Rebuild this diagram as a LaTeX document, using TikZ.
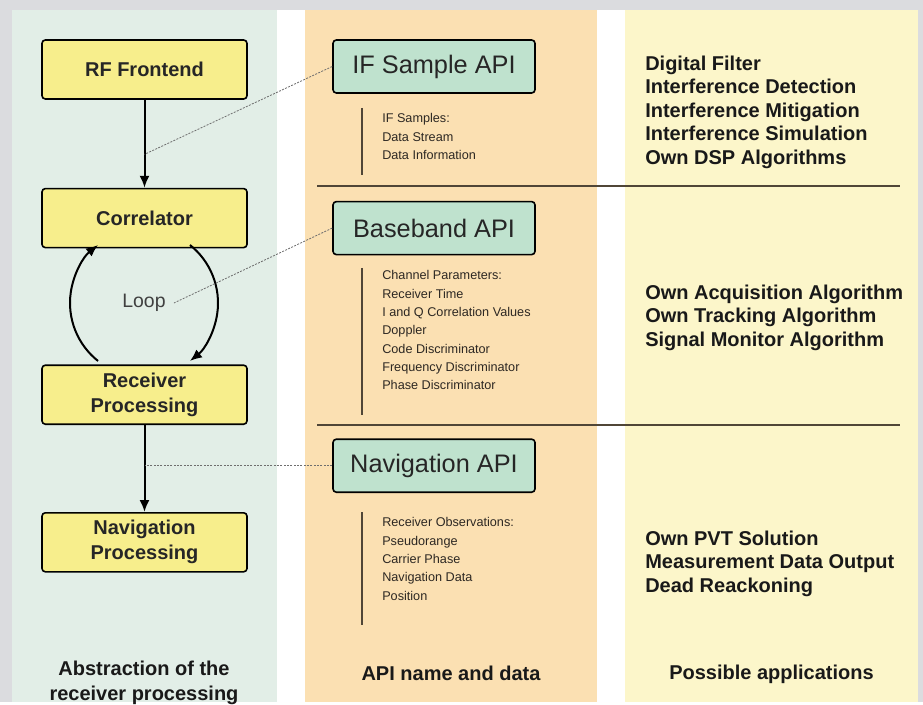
\documentclass[tikz,border=0pt]{standalone}
\usepackage{fontspec}
\setmainfont{Liberation Sans}
\usepackage{tikz}
\usetikzlibrary{arrows.meta,positioning,calc}

\definecolor{pagegrey}{RGB}{219,220,223}
\definecolor{colmint}{RGB}{226,238,231}
\definecolor{colpeach}{RGB}{251,224,178}
\definecolor{colcream}{RGB}{252,246,202}
\definecolor{boxyellow}{RGB}{247,238,140}
\definecolor{apigreen}{RGB}{191,226,206}
\definecolor{sepbrown}{RGB}{80,70,55}
\definecolor{tapgrey}{RGB}{110,110,110}
\definecolor{listgrey}{RGB}{45,40,35}

\begin{document}
\begin{tikzpicture}[x=0.75pt, y=-0.75pt, >={Latex[length=9pt,width=7.5pt]}]
\tikzset{
procblock/.style = {draw, line width=1.2pt, rounded corners=2.5pt, fill=boxyellow, minimum width=153.75pt, minimum height=44.25pt, align=center, text=black!85, font=\bfseries\fontsize{15}{18.75}\selectfont},
apiblock/.style  = {draw, line width=1.2pt, rounded corners=2.5pt, fill=apigreen, minimum width=151.5pt, minimum height=39.75pt, text=black!85, font=\fontsize{19}{22}\selectfont},
datalist/.style  = {anchor=north west, inner sep=0pt, align=left, text=listgrey, font=\fontsize{9.5}{13.75}\selectfont},
appslist/.style  = {anchor=north west, inner sep=0pt, align=left, text=black!90, font=\bfseries\fontsize{15}{17.6}\selectfont},
coltitle/.style  = {anchor=north, inner sep=0pt, align=center, text=black!90, font=\bfseries\fontsize{15}{18.75}\selectfont},
flow/.style      = {->, line width=1.5pt},
tap/.style       = {draw=tapgrey, line width=0.6pt, dash pattern=on 1.5pt off 1pt},
sepline/.style   = {draw=sepbrown, line width=0.8pt},
bar/.style       = {draw=sepbrown, line width=1.2pt},
coord/.style     = {coordinate},
}

    % Background and columns
    \fill[pagegrey] (0,0) rectangle (923,702);
    \fill[white]    (12,10) rectangle (918,702);
    \fill[colmint]  (12,10) rectangle (277,702);
    \fill[colpeach] (305,10) rectangle (597,702);
    \fill[colcream] (625,10) rectangle (918,702);

    % Separators
    \draw[sepline] (317,186) -- (900,186);
    \draw[sepline] (317,425) -- (900,425);

    % Processing nodes
    \node [procblock]                     (rf)    at (144.5,69.5) {RF Frontend};
    \node [procblock, below=66pt of rf]   (corr)  {Correlator};
    \node [procblock, below=87pt of corr] (recv)  {Receiver\\Processing};
    \node [procblock, below=65.25pt of recv] (navp) {Navigation\\Processing};
    \node [inner sep=6pt, text=black!75, font=\fontsize{14.6}{17}\selectfont] (loop) at (144,303) {Loop};

    % Processing edges
    \draw [flow] (rf) -- (corr);
    \draw [flow] (recv) -- (navp);
    \draw [flow] (loop.center) ++(128.4:74) arc[start angle=128.4, end angle=231.6, radius=74];
    \draw [flow] (loop.center) ++(-51.6:74) arc[start angle=-51.6, end angle=51.6, radius=74];

    % API nodes
    \node [apiblock]                          (ifapi)  at (434,66.5) {IF Sample API};
    \node [apiblock, below=80.25pt of ifapi]  (bbapi)  {Baseband API};
    \node [apiblock, below=137.25pt of bbapi] (navapi) {Navigation API};

    % API data
    \node [datalist] (iflist)  at (382,113.3) {IF Samples:\\Data Stream\\Data Information};
    \node [datalist] (bblist)  at (382,270.3) {Channel Parameters:\\Receiver Time\\I and Q Correlation Values\\Doppler\\Code Discriminator\\Frequency Discriminator\\Phase Discriminator};
    \node [datalist] (navlist) at (382,517.3) {Receiver Observations:\\Pseudorange\\Carrier Phase\\Navigation Data\\Position};
    \draw[bar] (362,108) -- (362,175);
    \draw[bar] (362,268) -- (362,415);
    \draw[bar] (362,512) -- (362,625);

    % API edges
    \coordinate (tapif) at ($(rf.south)!0.62!(corr.north)$);
    \coordinate (tapnav) at (recv.south |- navapi.west);
    \draw [tap] (ifapi.west) -- (tapif);
    \draw [tap] (bbapi.west) -- (loop.east);
    \draw [tap] (navapi.west) -- (tapnav);

    % Applications
    \node [appslist] (ifapps)  at (645,55.6)  {Digital Filter\\Interference Detection\\Interference Mitigation\\Interference Simulation\\Own DSP Algorithms};
    \node [appslist] (bbapps)  at (645,284.6) {Own Acquisition Algorithm\\Own Tracking Algorithm\\Signal Monitor Algorithm};
    \node [appslist] (navapps) at (645,530.6) {Own PVT Solution\\Measurement Data Output\\Dead Reackoning};

    % Column titles
    \node [coltitle] (proctitle) at (144,660.6)  {Abstraction of the\\receiver processing};
    \node [coltitle] (apititle)  at (451,665.6)  {API name and data};
    \node [coltitle] (apptitle)  at (771.5,664.6) {Possible applications};

\end{tikzpicture}
\end{document}
